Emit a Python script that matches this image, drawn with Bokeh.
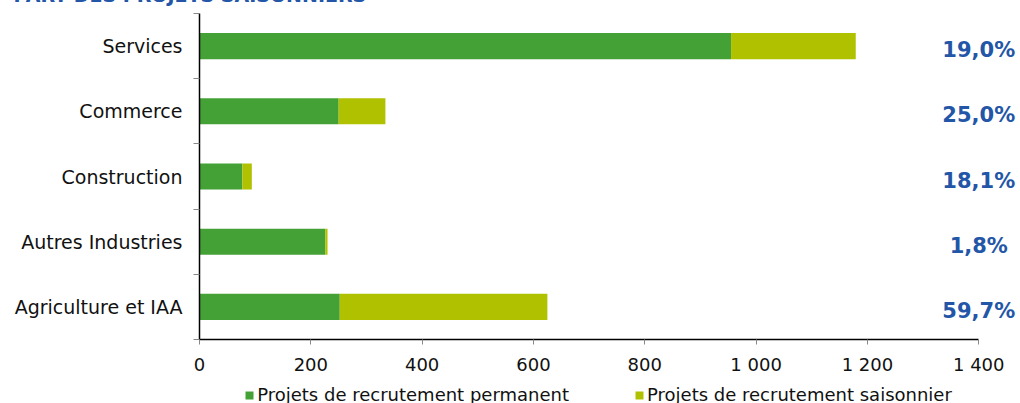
from bokeh.plotting import figure
from bokeh.models import ColumnDataSource, Range1d, FixedTicker, Legend, LegendItem, LinearAxis, Label
from bokeh.embed import file_html
from bokeh.resources import INLINE
from bokeh.core.properties import value

# ---- data ----
categories = ["Services", "Commerce", "Construction", "Autres Industries", "Agriculture et IAA"]
permanent = [955, 250, 77, 226, 252]
saisonnier = [224, 84, 17, 4, 373]
part_saisonniers = ["19,0%", "25,0%", "18,1%", "1,8%", "59,7%"]
x_ticks = [0, 200, 400, 600, 800, 1000, 1200, 1400]
x_tick_labels = ["0", "200", "400", "600", "800", "1 000", "1 200", "1 400"]
series_names = ["Projets de recrutement permanent", "Projets de recrutement saisonnier"]
title_text = "PART DES PROJETS SAISONNIERS"
colors = ["#43A136", "#B0C100"]
blue = "#2356A6"

FONT = "DejaVu Sans"

# layout (pixels)
LEFT, TOP, FW, FH = 199, 13, 821, 326
RIGHT_EDGE = LEFT + FW          # x of the frame's right edge
BOTTOM_EDGE = TOP + FH          # y of the frame's bottom edge
LEGEND_PANEL_SHIFT = 845        # measured offset of the legend's side panel

n = len(categories)
ypos = [n - i - 0.5 for i in range(n)]

src = ColumnDataSource(dict(
    y=ypos,
    permanent=permanent,
    saisonnier=saisonnier,
    pct=part_saisonniers,
    xlab=[x_ticks[-1]] * n,
))

p = figure(
    frame_width=FW, frame_height=FH,
    min_border_left=LEFT, min_border_right=0, min_border_top=TOP, min_border_bottom=0,
    x_range=Range1d(0, 1475), y_range=Range1d(0, n),
    output_backend="svg", toolbar_location=None,
    x_axis_type=None, y_axis_type=None,
)
p.outline_line_color = None
p.xgrid.visible = False
p.ygrid.visible = False
p.background_fill_color = "white"
p.border_fill_color = "white"

rs = p.hbar_stack(["permanent", "saisonnier"], y="y", height=0.4, color=colors,
                  line_color=None, source=src)

p.text(x="xlab", y="y", text="pct", source=src, text_align="center",
       text_baseline="middle", y_offset=4, text_color=blue,
       text_font=value(FONT), text_font_size="21px", text_font_style="bold")

# x axis
xaxis = LinearAxis(ticker=FixedTicker(ticks=x_ticks, minor_ticks=[]),
                   bounds=(x_ticks[0], x_ticks[-1]))
xaxis.major_label_overrides = {tk: lb for tk, lb in zip(x_ticks, x_tick_labels)}
xaxis.axis_line_color = "black"
xaxis.axis_line_width = 1.5
xaxis.major_tick_line_color = "#888888"
xaxis.major_tick_out = 5
xaxis.major_tick_in = 0
xaxis.minor_tick_line_color = None
xaxis.minor_tick_out = 0
xaxis.major_label_text_font = FONT
xaxis.major_label_text_font_size = "18px"
xaxis.major_label_text_color = "#111111"
xaxis.major_label_standoff = 9
p.add_layout(xaxis, "below")

# y axis
yaxis = LinearAxis(ticker=FixedTicker(ticks=ypos, minor_ticks=list(range(n + 1))))
yaxis.major_label_overrides = {y: c for y, c in zip(ypos, categories)}
yaxis.axis_line_color = "black"
yaxis.axis_line_width = 1.5
yaxis.major_tick_line_color = None
yaxis.major_tick_out = 0
yaxis.major_tick_in = 0
yaxis.minor_tick_line_color = "#888888"
yaxis.minor_tick_out = 6
yaxis.minor_tick_in = 0
yaxis.major_label_text_font = FONT
yaxis.major_label_text_font_size = "19px"
yaxis.major_label_text_color = "#111111"
yaxis.major_label_standoff = 11
p.add_layout(yaxis, "left")

# title (cut off by the top edge in the reference) - lives in the right panel,
# positioned back over the top-left corner of the canvas
title = Label(x=13 - RIGHT_EDGE, y=BOTTOM_EDGE + 6, x_units="screen", y_units="screen",
              text=title_text, text_font=FONT, text_font_size="19px",
              text_font_style="bold", text_color=blue, text_baseline="alphabetic")
p.add_layout(title, "right")

legend = Legend(
    items=[LegendItem(label=series_names[0], renderers=[rs[0]]),
           LegendItem(label=series_names[1], renderers=[rs[1]])],
    orientation="horizontal",
    location=(246 - RIGHT_EDGE - LEGEND_PANEL_SHIFT, BOTTOM_EDGE - 405),
    glyph_width=10, glyph_height=10, label_standoff=3, spacing=65,
    padding=0, margin=0, border_line_color=None, background_fill_alpha=0,
    label_text_font=FONT, label_text_font_size="18px", label_text_color="#111111",
)
p.add_layout(legend, "right")

open("out.html", "w").write(file_html(p, INLINE))
